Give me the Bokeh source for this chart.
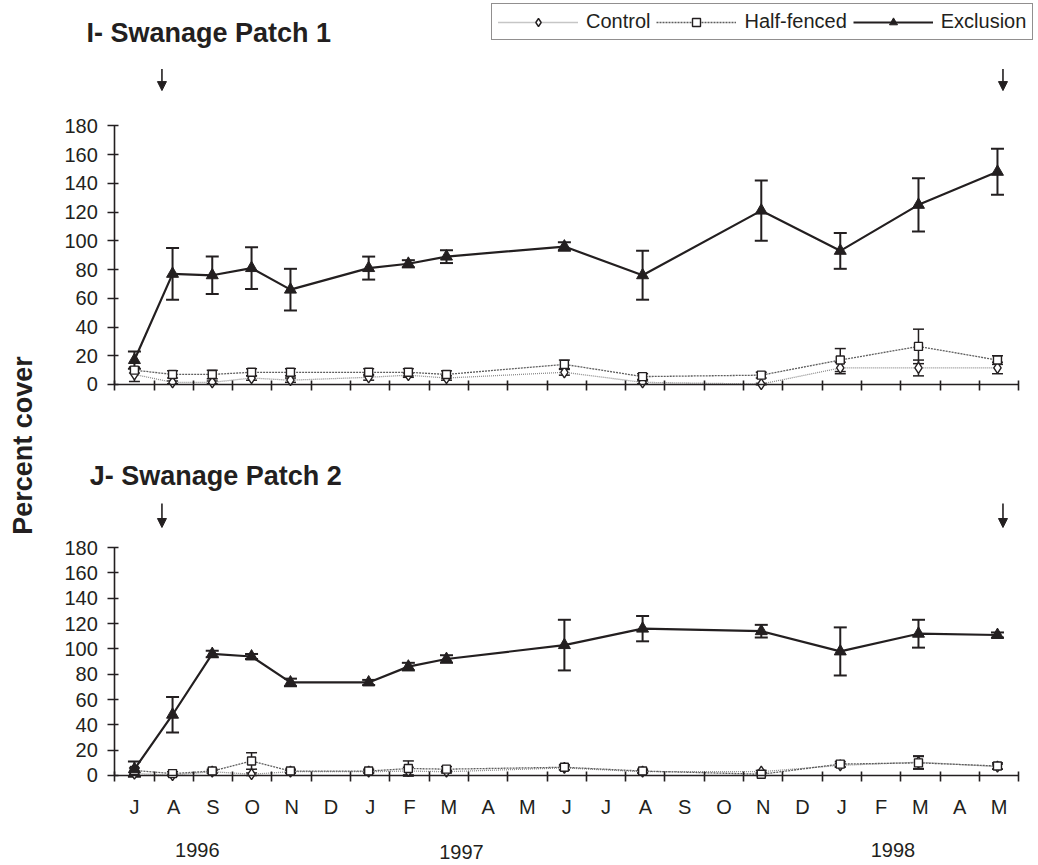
import math

from bokeh.embed import file_html
from bokeh.models import (Arrow, ColumnDataSource, FixedTicker, Label, Legend,
                          LegendItem, LinearAxis, NormalHead, Range1d, TeeHead,
                          Whisker)
from bokeh.plotting import figure
from bokeh.resources import INLINE

# ---------------------------------------------------------------- data
# month axis: July 1996 .. May 1998, one slot per month
month_labels = ["J", "A", "S", "O", "N", "D", "J", "F", "M", "A", "M", "J",
                "J", "A", "S", "O", "N", "D", "J", "F", "M", "A", "M"]
year_labels = ["1996", "1997", "1998"]
year_pos = [2.1, 8.82, 19.8]           # months since 1 July 1996

# sampling dates, months since 1 July 1996
sample_month = [0.5, 1.47, 2.48, 3.48, 4.47, 6.46, 7.47, 8.44,
                11.44, 13.43, 16.45, 18.46, 20.45, 22.46]

# fence set-up / removal dates
arrow_month = [1.2, 22.6]

# I - Swanage Patch 1 (percent cover, mean and SE)
p1_exclusion = [17, 77, 76, 81, 66, 81, 84, 89, 96, 76, 121, 93, 125, 148]
p1_exclusion_se = [6, 18, 13, 14.5, 14.5, 8, 2.5, 4.5, 3, 17, 21, 12.5, 18.5, 16]
p1_half = [10, 7, 7, 8.5, 8.5, 8.5, 8.5, 7, 14, 5.5, 6.5, 17, 26.5, 17]
p1_half_se = [2, 2.5, 3, 2.5, 2.5, 2.5, 2.5, 2.5, 3, 2, 2, 8, 12, 3]
p1_control = [7, 1.5, 1.5, 4.5, 3, 5, 6.5, 4.5, 8.5, 1.5, 0.3, 11.5, 11.5, 11.5]
p1_control_se = [5, 1, 1, 1.5, 1.5, 2, 1.5, 1.5, 2, 1, 0.5, 4, 5.5, 4]

# J - Swanage Patch 2
p2_exclusion = [5, 48, 96, 94, 73.5, 73.5, 86, 92, 103, 116, 114, 98, 112, 111]
p2_exclusion_se = [6, 14, 2.5, 2, 3, 2, 3, 3, 20, 10, 5, 19, 11, 2]
p2_half = [4, 1.5, 3.5, 11.5, 3.5, 3.5, 5.5, 5, 6.5, 3.5, 1, 9, 10, 7.5]
p2_half_se = [2, 1.5, 1.5, 6.5, 1.5, 1.5, 6, 2, 2, 1.5, 1, 2, 5, 2.5]
p2_control = [1.5, 0.3, 3, 1, 3, 3, 3.5, 3, 6, 3, 3, 8, 10.5, 7]
p2_control_se = [1, 0.5, 1, 1, 1, 1, 3, 1, 1.5, 1, 1, 1.5, 5, 2]

y_ticks = [0, 20, 40, 60, 80, 100, 120, 140, 160, 180]

# ---------------------------------------------------------------- style
FONT = "Liberation Sans"
INK = "#231f20"
N_MONTHS = len(month_labels)

# One canvas holds both panels; each panel has its own y range so that
# 0..180 of patch 1 sits in the upper half and patch 2 in the lower half.
p = figure(width=1038, height=865, output_backend="svg",
           toolbar_location=None, title=None,
           x_range=Range1d(-2.908, 23.504),
           y_range=Range1d(-71.1, 612.2),          # patch 2
           x_axis_location=None, y_axis_location=None,
           min_border=0)
p.extra_y_ranges = {"p1": Range1d(-334.7, 267.2)}  # patch 1
p.grid.visible = False
p.outline_line_color = None
p.background_fill_color = "white"
p.border_fill_color = "white"


def y_axis(range_name):
    ax = LinearAxis(y_range_name=range_name, fixed_location=0,
                    bounds=(0, 180),
                    ticker=FixedTicker(ticks=y_ticks, minor_ticks=[]))
    ax.axis_line_color = INK
    ax.axis_line_width = 1.6
    ax.major_tick_line_color = INK
    ax.major_tick_line_width = 1.6
    ax.major_tick_in = 4
    ax.major_tick_out = 7
    ax.minor_tick_line_color = None
    ax.major_label_standoff = 10
    ax.major_label_text_font = FONT
    ax.major_label_text_font_size = "20px"
    ax.major_label_text_color = INK
    p.add_layout(ax, "left")


def x_axis(range_name, with_months):
    boundaries = list(range(N_MONTHS + 1))
    if with_months:
        ticker = FixedTicker(ticks=[i + 0.5 for i in range(N_MONTHS)],
                             minor_ticks=boundaries)
    else:
        ticker = FixedTicker(ticks=[], minor_ticks=boundaries)
    ax = LinearAxis(y_range_name=range_name, fixed_location=0,
                    bounds=(0, N_MONTHS), ticker=ticker)
    if with_months:
        ax.major_label_overrides = {i + 0.5: m for i, m in enumerate(month_labels)}
    ax.axis_line_color = INK
    ax.axis_line_width = 1.6
    ax.major_tick_line_color = None
    ax.major_tick_in = 0
    ax.major_tick_out = 0
    ax.minor_tick_line_color = INK
    ax.minor_tick_line_width = 1.6
    ax.minor_tick_in = 4
    ax.minor_tick_out = 6
    ax.major_label_standoff = 15
    ax.major_label_text_font = FONT
    ax.major_label_text_font_size = "20px"
    ax.major_label_text_color = INK
    p.add_layout(ax, "below")


def series_source(y, se):
    return ColumnDataSource(dict(
        x=sample_month, y=y,
        upper=[v + e for v, e in zip(y, se)],
        lower=[v - e for v, e in zip(y, se)],
    ))


def error_bars(src, rng, width, cap):
    p.add_layout(Whisker(
        source=src, base="x", upper="upper", lower="lower",
        dimension="height", y_range_name=rng,
        line_color=INK, line_width=width,
        upper_head=TeeHead(size=cap, line_color=INK, line_width=width),
        lower_head=TeeHead(size=cap, line_color=INK, line_width=width)))


def panel(rng, title, title_pos, arrow_y, ex, ex_se, hf, hf_se, ct, ct_se):
    s_ex = series_source(ex, ex_se)
    s_hf = series_source(hf, hf_se)
    s_ct = series_source(ct, ct_se)

    error_bars(s_ct, rng, 1.5, 11)
    error_bars(s_hf, rng, 1.5, 11)
    error_bars(s_ex, rng, 2, 13)

    l_ct = p.line("x", "y", source=s_ct, y_range_name=rng,
                  line_color="#8c8c8c", line_width=1.3, line_dash="1 1")
    l_hf = p.line("x", "y", source=s_hf, y_range_name=rng,
                  line_color="#5e5e5e", line_width=1.3, line_dash="2 1")
    l_ex = p.line("x", "y", source=s_ex, y_range_name=rng,
                  line_color=INK, line_width=2.2)

    m_ct = p.scatter("x", "y", source=s_ct, y_range_name=rng, marker="diamond",
                     size=11, fill_color="white", line_color=INK, line_width=1.4)
    m_hf = p.scatter("x", "y", source=s_hf, y_range_name=rng, marker="square",
                     size=8, fill_color="white", line_color=INK, line_width=1.4)
    m_ex = p.scatter("x", "y", source=s_ex, y_range_name=rng, marker="triangle",
                     size=12, fill_color=INK, line_color=INK, line_width=1)

    p.add_layout(Label(x=title_pos[0], y=title_pos[1], y_range_name=rng,
                       text=title, text_font=FONT, text_font_style="bold",
                       text_font_size="27px", text_color=INK,
                       text_baseline="alphabetic"))

    for xm in arrow_month:
        p.add_layout(Arrow(x_start=xm, y_start=arrow_y[0], x_end=xm,
                           y_end=arrow_y[1], y_range_name=rng,
                           line_color=INK, line_width=1.6,
                           end=NormalHead(size=9, fill_color=INK,
                                          line_color=INK)))
    return (l_ct, m_ct), (l_hf, m_hf), (l_ex, m_ex)


# axes
y_axis("p1")
y_axis("default")
x_axis("p1", with_months=False)
x_axis("default", with_months=True)

r_ct, r_hf, r_ex = panel("p1", "I- Swanage Patch 1", (-0.72, 244.3),
                         (219.5, 204.5),
                         p1_exclusion, p1_exclusion_se, p1_half, p1_half_se,
                         p1_control, p1_control_se)
panel("default", "J- Swanage Patch 2", (-0.64, 236.2), (214.8, 195.9),
      p2_exclusion, p2_exclusion_se, p2_half, p2_half_se,
      p2_control, p2_control_se)

legend = Legend(items=[LegendItem(label="Control", renderers=list(r_ct)),
                       LegendItem(label="Half-fenced", renderers=list(r_hf)),
                       LegendItem(label="Exclusion", renderers=list(r_ex))],
                orientation="horizontal", location=(491, 825),
                border_line_color=INK, border_line_width=1.2,
                background_fill_color="white", background_fill_alpha=1,
                label_text_font=FONT, label_text_font_size="20px",
                label_text_color=INK, glyph_width=80, glyph_height=20,
                label_standoff=8, spacing=6, padding=6, margin=0)
p.add_layout(legend)

# year captions under the month letters (the middle one sits a touch lower)
year_drop = {"1997": 1.6}
for yl, xp in zip(year_labels, year_pos):
    p.add_layout(Label(x=xp, y=-59.2 - year_drop.get(yl, 0.0), text=yl,
                       text_font=FONT, text_font_size="20px", text_color=INK,
                       text_align="center", text_baseline="middle"))

# shared y-axis title
p.add_layout(Label(x=-2.323, y=260.7, text="Percent cover", angle=math.pi / 2,
                   text_font=FONT, text_font_style="bold",
                   text_font_size="27px", text_color=INK,
                   text_align="center", text_baseline="middle"))

with open("out.html", "w") as f:
    f.write(file_html(p, INLINE))
